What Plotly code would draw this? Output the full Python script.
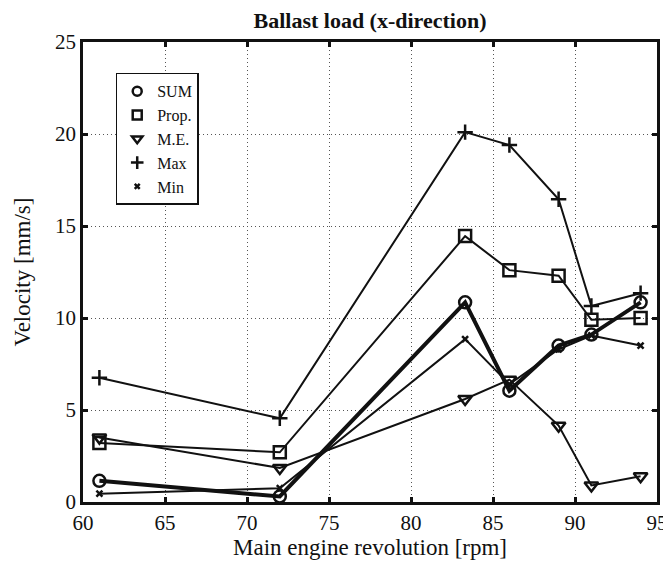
import plotly.graph_objects as go

rpm = [61, 72, 83.3, 86, 89, 91, 94]
sum_v = [1.15, 0.3, 10.85, 6.05, 8.5, 9.1, 10.85]
prop_v = [3.2, 2.7, 14.45, 12.6, 12.3, 9.9, 10.0]
me_v = [3.5, 1.85, 5.6, 6.65, 4.15, 0.9, 1.4]
max_v = [6.75, 4.55, 20.1, 19.4, 16.45, 10.65, 11.35]
min_v = [0.45, 0.75, 8.85, 6.4, 8.3, 9.05, 8.5]

names = ["SUM", "Prop.", "M.E.", "Max", "Min"]
series = [sum_v, prop_v, me_v, max_v, min_v]
symbols = ["circle-open", "square-open", "triangle-down-open", "cross-thin-open", "x-thin-open"]
sizes = [12, 12, 12, 11, 6]
leg_sizes = [9, 9, 9, 9, 5]
widths = [4, 2, 2, 2, 2]
INK = "#111111"
FONT = "Liberation Serif"

fig = go.Figure()
for nm, ys, sym, sz, w in zip(names, series, symbols, sizes, widths):
    fig.add_trace(go.Scatter(
        x=rpm, y=ys, mode="lines+markers", showlegend=False,
        line=dict(color=INK, width=w),
        marker=dict(symbol=sym, size=sz, color=INK,
                    line=dict(color=INK, width=2.5)),
    ))
for nm, sym, sz in zip(names, symbols, leg_sizes):
    fig.add_trace(go.Scatter(
        x=[None], y=[None], mode="markers", name=nm,
        marker=dict(symbol=sym, size=sz, color=INK,
                    line=dict(color=INK, width=2.5)),
    ))

axis_common = dict(
    showline=True, linecolor=INK, linewidth=2.5, mirror="ticks",
    ticks="inside", ticklen=5, tickwidth=2.5, tickcolor=INK,
    showgrid=True, gridcolor="#555555", griddash="1px,3px", gridwidth=1,
    zeroline=False, automargin=False,
    tickfont=dict(family=FONT, size=21, color=INK),
)

fig.update_layout(
    width=671, height=564,
    margin=dict(l=75, r=22, t=34, b=70),
    paper_bgcolor="white", plot_bgcolor="white",
    title=dict(text="<b>Ballast load (x-direction)</b>", x=0.5, xanchor="center",
               xref="paper", y=0.978, yanchor="middle",
               font=dict(family=FONT, size=22, color=INK)),
    xaxis=dict(range=[60, 95], dtick=5, tick0=60,
               title=dict(text="Main engine revolution [rpm]", standoff=4,
                          font=dict(family=FONT, size=23, color=INK)),
               **axis_common),
    yaxis=dict(range=[0, 25], dtick=5, tick0=0,
               title=dict(text="Velocity [mm/s]", standoff=18,
                          font=dict(family=FONT, size=23, color=INK)),
               **axis_common),
    legend=dict(x=0.057, y=0.933, xanchor="left", yanchor="top",
                bgcolor="white", bordercolor=INK, borderwidth=1.5,
                font=dict(family=FONT, size=16, color=INK),
                tracegroupgap=0, itemwidth=30),
    showlegend=True,
)

fig.write_html("out.html")
